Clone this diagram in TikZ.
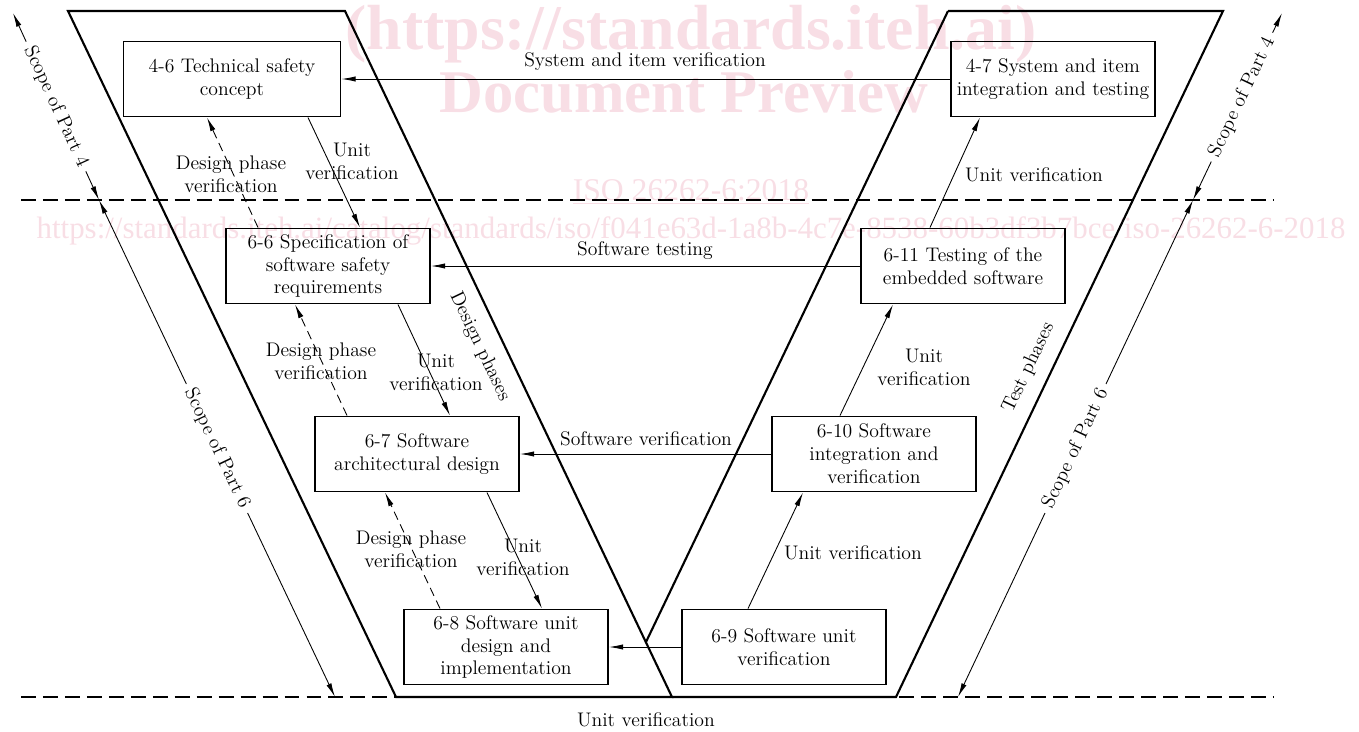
\documentclass[tikz,border=0pt]{standalone}
\usepackage{fontspec}
\usepackage{tikz}
\usetikzlibrary{arrows.meta}
\newfontfamily\wmfont{Liberation Serif}
\definecolor{wmpink}{RGB}{248,222,229}
\tikzset{every node/.append style={font=\fontsize{11.2}{13}\selectfont}}
\tikzset{
  stage/.style={draw, line width=1.1pt, minimum width=4.08cm, minimum height=1.5cm, align=center, inner sep=2pt},
  vline/.style={line width=1.2pt, line join=miter},
  flow/.style={->, line width=0.5pt},
  check/.style={->, line width=0.5pt, dash pattern=on 5pt off 3pt},
  lbl/.style={align=center},
  bound/.style={line width=0.8pt, dash pattern=on 8.5pt off 4pt},
  scopeline/.style={->, line width=0.5pt},
  wm/.style={text=wmpink, anchor=base, font=\wmfont\fontsize{17.6}{17.6}\selectfont},
}

\begin{document}
\begin{tikzpicture}[x=0.02cm, y=-0.02cm, >={Latex[length=8pt,width=3pt]}]
    \useasboundingbox (0,0) rectangle (1359,731);
    % watermark behind everything
    \node[wm, font=\wmfont\bfseries\fontsize{36.3}{36}\selectfont] (wmsite) at (691,49) {(https://standards.iteh.ai)};
    \node[wm, font=\wmfont\bfseries\fontsize{34.5}{34}\selectfont] (wmprev) at (684,112) {Document Preview};
    \node[wm, font=\wmfont\fontsize{18}{18}\selectfont] (wmiso) at (691,200) {\underline{ISO 26262-6:2018}};
    \node[wm] (wmurl) at (691,238) {https://standards.iteh.ai/catalog/standards/iso/f041e63d-1a8b-4c7e-8538-60b3df3b7bce/iso-26262-6-2018};

    % scope boundaries
    \draw[bound] (21,200) -- (1273,200);
    \draw[bound] (21,697) -- (1273,697);

    % the two phase bands
    \draw[vline] (68,11) -- (345,11) -- node[sloped, below=4pt, pos=0.475] (dph) {Design phases} (672,697) -- (396,697) -- cycle;
    \draw[vline] (948,11) -- (1223,11) -- (896,697) -- (672,697);
    \draw[vline] (948,11) -- (646,642);
    \path (896,697) -- node[sloped, above=4pt, pos=0.466] (tph) {Test phases} (1223,11);

    % scope arrows
    \coordinate (l4top) at (13,13);
    \coordinate (l4mid) at (99,200);
    \coordinate (l6bot) at (335,697);
    \coordinate (r4top) at (1282,13);
    \coordinate (r4mid) at (1193,200);
    \coordinate (r6bot) at (958,697);
    \path (l4top) -- node[sloped] (sl4) {Scope of Part 4} (l4mid);
    \path (l4mid) -- node[sloped] (sl6) {Scope of Part 6} (l6bot);
    \path (r4mid) -- node[sloped, pos=0.55] (sr4) {Scope of Part 4} (r4top);
    \path (r6bot) -- node[sloped] (sr6) {Scope of Part 6} (r4mid);
    \draw[scopeline] (sl4) -- (l4top);
    \draw[scopeline] (sl4) -- (l4mid);
    \draw[scopeline] (sl6) -- (l4mid);
    \draw[scopeline] (sl6) -- (l6bot);
    \draw[scopeline] (sr4) -- (r4top);
    \draw[scopeline] (sr4) -- (r4mid);
    \draw[scopeline] (sr6) -- (r4mid);
    \draw[scopeline] (sr6) -- (r6bot);

    % work products
    \node[stage, minimum width=4.34cm] (tsc) at (232,79) {4-6 Technical safety\\concept};
    \node[stage] (sit) at (1053,79) {4-7 System and item\\integration and testing};
    \node[stage] (ssr) at (328,266) {6-6 Specification of\\software safety\\requirements};
    \node[stage] (emb) at (963,266) {6-11 Testing of the\\embedded software};
    \node[stage] (sad) at (417,454) {6-7 Software\\architectural design};
    \node[stage] (siv) at (874,454) {6-10 Software\\integration and\\verification};
    \node[stage] (sud) at (506,647) {6-8 Software unit\\design and\\implementation};
    \node[stage] (suv) at (784,647) {6-9 Software unit\\verification};

    % verification across the V
    \draw[flow] (sit) -- (tsc);
    \draw[flow] (emb) -- (ssr);
    \draw[flow] (siv) -- (sad);
    \draw[flow] (suv) -- (sud);
    \node[lbl] (vsys) at (645,62) {System and item verification};
    \node[lbl] (vtest) at (645,251) {Software testing};
    \node[lbl] (vsw) at (646,439) {Software verification};
    \node[lbl] (vunit) at (646,720) {Unit verification};

    % design side
    \draw[flow] ([xshift=1.52cm]tsc.south) -- ([xshift=0.64cm]ssr.north);
    \draw[check] ([xshift=-1.4cm]ssr.north) -- ([xshift=-0.5cm]tsc.south);
    \draw[flow] ([xshift=1.4cm]ssr.south) -- ([xshift=0.66cm]sad.north);
    \draw[check] ([xshift=-1.4cm]sad.north) -- ([xshift=-0.66cm]ssr.south);
    \draw[flow] ([xshift=1.4cm]sad.south) -- ([xshift=0.72cm]sud.north);
    \draw[check] ([xshift=-1.32cm]sud.north) -- ([xshift=-0.64cm]sad.south);
    \node[lbl] (u1) at (352,161) {Unit\\verification};
    \node[lbl] (d1) at (231,174) {Design phase\\verification};
    \node[lbl] (u2) at (436,372) {Unit\\verification};
    \node[lbl] (d2) at (321,361) {Design phase\\verification};
    \node[lbl] (u3) at (523,557) {Unit\\verification};
    \node[lbl] (d3) at (411,549) {Design phase\\verification};

    % test side
    \draw[flow] ([xshift=-0.72cm]suv.north) -- ([xshift=-1.42cm]siv.south);
    \draw[flow] ([xshift=-0.68cm]siv.north) -- ([xshift=-1.4cm]emb.south);
    \draw[flow] ([xshift=-0.66cm]emb.north) -- ([xshift=-1.46cm]sit.south);
    \node[lbl] (u4) at (853,553) {Unit verification};
    \node[lbl] (u5) at (924,367) {Unit\\verification};
    \node[lbl] (u6) at (1034,175) {Unit verification};
\end{tikzpicture}
\end{document}
